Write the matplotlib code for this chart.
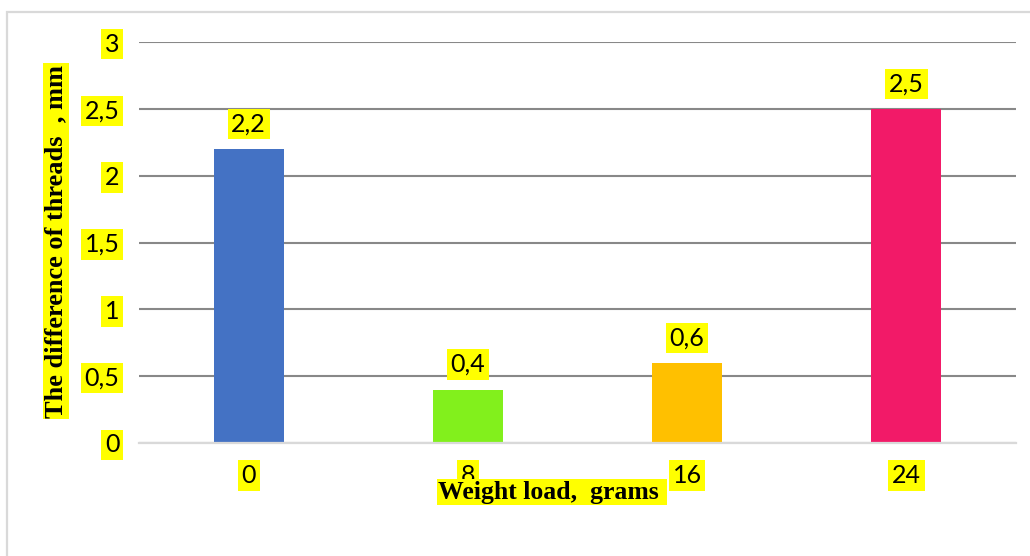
import matplotlib
matplotlib.use("Agg")
import matplotlib.pyplot as plt
from matplotlib.patches import Rectangle

# Thread difference measured under each weight load
loads = ["0", "8", "16", "24"]
differences = [2.2, 0.4, 0.6, 2.5]
bar_colors = ["#4472C4", "#82F01C", "#FFC000", "#F21A68"]
y_ticks = [0, 0.5, 1, 1.5, 2, 2.5, 3]
y_tick_labels = ["0", "0,5", "1", "1,5", "2", "2,5", "3"]

W, H = 1030, 556
fig = plt.figure(figsize=(W / 100, H / 100), dpi=100)
fig.patch.set_facecolor("white")

# light frame around the chart area
fig.patches.append(Rectangle((7 / W, -0.05), 1.1, 1 - 12 / H + 0.05,
                             transform=fig.transFigure, fill=False,
                             edgecolor="#d9d9d9", linewidth=1.6, zorder=0))

ax = fig.add_axes([139 / W, 113 / H, 877 / W, 401 / H])
x = range(len(loads))
ax.bar(x, differences, width=0.32, color=bar_colors, zorder=3)

ax.set_xlim(-0.5, 3.5)
ax.set_ylim(0, 3)
ax.set_yticks(y_ticks)
ax.set_yticklabels(y_tick_labels)
ax.set_xticks(list(x))
ax.set_xticklabels(loads)

for side in ["left", "right", "top"]:
    ax.spines[side].set_visible(False)
ax.spines["bottom"].set_color("#d9d9d9")
ax.spines["bottom"].set_linewidth(1.6)
ax.spines["bottom"].set_zorder(4)

ax.yaxis.grid(True, color="#888888", linewidth=1.5, zorder=1)
ax.set_axisbelow(True)
ax.tick_params(axis="both", length=0)
ax.tick_params(axis="y", pad=14)
ax.tick_params(axis="x", pad=15)

FS = 18
hl = dict(boxstyle="square,pad=0.15", facecolor="#FFFF00", edgecolor="none")
for lab in ax.get_yticklabels() + ax.get_xticklabels():
    lab.set_fontfamily("Lato")
    lab.set_fontsize(FS)
    lab.set_bbox(hl)

# value labels above each bar
for xi, v in zip(x, differences):
    ax.annotate(f"{v:.1f}".replace(".", ","), (xi, v), xytext=(0, 18),
                textcoords="offset points", ha="center", va="center",
                fontfamily="Lato", fontsize=FS, bbox=hl, zorder=5)

fig.text(56 / W, 1 - 241 / H, "The difference of threads  , mm",
         rotation=90, ha="center", va="center",
         fontdict=dict(family="Liberation Serif", weight="bold", size=19),
         bbox=dict(boxstyle="square,pad=0.05", facecolor="#FFFF00",
                   edgecolor="none"))
fig.text(552 / W, 1 - 492 / H, "Weight load,  grams ", ha="center",
         va="center", zorder=10,
         fontdict=dict(family="Liberation Serif", weight="bold", size=18.5),
         bbox=dict(boxstyle="square,pad=0.05", facecolor="#FFFF00",
                   edgecolor="none"))

fig.savefig("out.png", dpi=100, facecolor="white")
